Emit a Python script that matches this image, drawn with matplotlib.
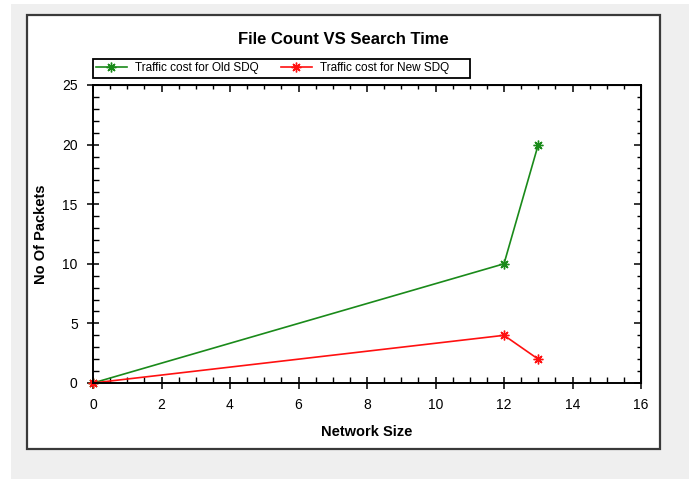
import matplotlib
matplotlib.use("Agg")
import matplotlib.pyplot as plt
from matplotlib.patches import Rectangle
from matplotlib.ticker import MultipleLocator, NullFormatter

# data
network_size = [0, 12, 13]
old_sdq = [0, 10, 20]
new_sdq = [0, 4, 2]
labels = ["Traffic cost for Old SDQ", "Traffic cost for New SDQ"]

plt.rcParams['font.family'] = ['Liberation Sans', 'DejaVu Sans']

W, H = 689, 479
fig = plt.figure(figsize=(W / 100, H / 100), dpi=100)
fig.patch.set_facecolor('white')

# gray background and white panel with frame
fig.add_artist(Rectangle((11 / W, 0), 1, 1 - 4 / H, transform=fig.transFigure,
                         facecolor='#efefef', edgecolor='none', zorder=0))
fig.add_artist(Rectangle((27 / W, 1 - 449 / H), (660 - 27) / W, (449 - 15) / H,
                         transform=fig.transFigure, facecolor='white',
                         edgecolor='#3a3a3a', linewidth=1.6, zorder=0))

ax = fig.add_axes([93 / W, 1 - 383 / H, (641 - 93) / W, (383 - 85) / H])
ax.set_facecolor('white')

star = (8, 2, 0)
ax.plot(network_size, old_sdq, color='#1a8a1a', lw=1.2, marker=star, ms=7,
        mew=1.0, label=labels[0], clip_on=False)
ax.plot(network_size, new_sdq, color='#ff1010', lw=1.2, marker=star, ms=7,
        mew=1.0, label=labels[1], clip_on=False)

ax.set_xlim(0, 16)
ax.set_ylim(0, 25)
ax.xaxis.set_major_locator(MultipleLocator(2))
ax.xaxis.set_minor_locator(MultipleLocator(0.5))
ax.yaxis.set_major_locator(MultipleLocator(5))
ax.yaxis.set_minor_locator(MultipleLocator(1))
ax.tick_params(which='major', direction='inout', length=8, width=1.1,
               labelsize=10, pad=7)
ax.tick_params(which='minor', direction='in', length=4, width=1)
for s in ax.spines.values():
    s.set_linewidth(1.4)

# inward ticks on the top and right sides, no labels
top = ax.secondary_xaxis('top')
right = ax.secondary_yaxis('right')
top.xaxis.set_major_locator(MultipleLocator(2))
top.xaxis.set_minor_locator(MultipleLocator(0.5))
top.xaxis.set_major_formatter(NullFormatter())
right.yaxis.set_major_locator(MultipleLocator(5))
right.yaxis.set_minor_locator(MultipleLocator(1))
right.yaxis.set_major_formatter(NullFormatter())
for sec in (top, right):
    sec.tick_params(which='major', direction='in', length=5, width=1.1)
    sec.tick_params(which='minor', direction='in', length=3, width=1)

ax.set_xlabel("Network Size", fontsize=10.5, fontweight='bold', labelpad=9)
ax.set_ylabel("No Of Packets", fontsize=10.5, fontweight='bold', labelpad=10)

fig.text(343 / W, 1 - 40 / H, "File Count VS Search Time", ha='center',
         va='center', fontsize=12, fontweight='bold')

# legend row above the plot, with its own square frame
fig.legend(loc='center left', bbox_to_anchor=(96 / W, 1 - 68.5 / H),
           ncol=2, frameon=False, borderpad=0, borderaxespad=0,
           handlelength=2.6, handletextpad=0.7, columnspacing=1.9,
           prop={'size': 8.5})
fig.add_artist(Rectangle((93 / W, 1 - 78 / H), 377 / W, 19 / H,
                         transform=fig.transFigure, facecolor='none',
                         edgecolor='black', linewidth=1.3))

fig.savefig("out.png", dpi=100)
